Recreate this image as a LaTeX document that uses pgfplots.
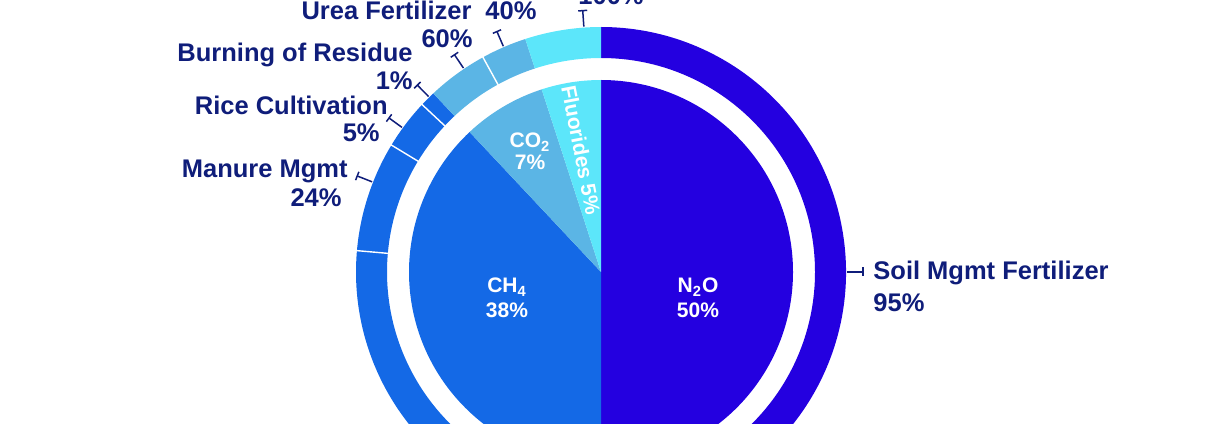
\documentclass[border=0pt]{standalone}
\usepackage{pgfplots}
\pgfplotsset{compat=1.18}
\usepackage{pgfplotstable}
\usepackage{fontspec}
\setmainfont{Liberation Sans}

\definecolor{nitro}{HTML}{2400E0}
\definecolor{meth}{HTML}{1469E6}
\definecolor{carb}{HTML}{5BB5E5}
\definecolor{fluor}{HTML}{5CE6FA}
\definecolor{navy}{HTML}{0F1D7A}

% inner pie, share of total (%)
\pgfplotstableread{
name  pct col
N2O   50  nitro
CH4   38  meth
CO2   7   carb
Fluor 5   fluor
}\innertab

% outer ring, span of each segment (degrees), clockwise from top
\pgfplotstableread{
name     span col   sep
soil     171  nitro 1
n2oother 9    nitro 0
ch4other 95   meth  1
manure   26.2 meth  1
rice     11.9 meth  1
burning  3.7  meth  0
urea     14.4 carb  1
co2other 10.8 carb  0
fluorall 18   fluor 0
}\outertab

% label ticks (angle, degrees)
\pgfplotstableread{
ang
0
158.5
144
134.5
124
113.4
94
}\ticktab

\newcommand\lab{\fontsize{12.75}{15}\selectfont\bfseries\color{navy}}
\newcommand\inlab{\fontsize{10.5}{12}\selectfont\bfseries\color{white}}

\def\rp{192}
\def\ri{214}
\def\ro{245}

\begin{document}
\begin{tikzpicture}
\begin{axis}[
  name=ax, at={(0,0)}, anchor=south west,
  x=0.5pt, y=0.5pt, scale only axis,
  xmin=-601, xmax=609, ymin=-151, ymax=272,
  hide axis, clip=true,
]
% inner pie
\def\cum{0}
\pgfplotsforeachungrouped \i in {0,...,3}{
  \pgfplotstablegetelem{\i}{pct}\of\innertab \let\pv\pgfplotsretval
  \pgfplotstablegetelem{\i}{col}\of\innertab \let\pc\pgfplotsretval
  \pgfmathsetmacro\sa{90-3.6*\cum}
  \pgfmathsetmacro\sb{90-3.6*(\cum+\pv)}
  \pgfmathsetmacro\cum{\cum+\pv}
  \edef\tmp{\noexpand\fill[\pc] (axis cs:0,0) -- (axis cs:{\rp*cos(\sa)},{\rp*sin(\sa)})
    arc[start angle=\sa, end angle=\sb, radius=\rp*0.5pt] -- cycle;}
  \tmp
}
% outer ring
\def\cum{0}
\pgfplotsforeachungrouped \i in {0,...,8}{
  \pgfplotstablegetelem{\i}{span}\of\outertab \let\pv\pgfplotsretval
  \pgfplotstablegetelem{\i}{col}\of\outertab \let\pc\pgfplotsretval
  \pgfmathsetmacro\sa{90-\cum}
  \pgfmathsetmacro\sb{90-\cum-\pv}
  \pgfmathsetmacro\cum{\cum+\pv}
  \edef\tmp{\noexpand\fill[\pc] (axis cs:{\ri*cos(\sa)},{\ri*sin(\sa)})
    arc[start angle=\sa, end angle=\sb, radius=\ri*0.5pt]
    -- (axis cs:{\ro*cos(\sb)},{\ro*sin(\sb)})
    arc[start angle=\sb, end angle=\sa, radius=\ro*0.5pt] -- cycle;}
  \tmp
}
% white separators inside a gas
\def\cum{0}
\pgfplotsforeachungrouped \i in {0,...,8}{
  \pgfplotstablegetelem{\i}{span}\of\outertab \let\pv\pgfplotsretval
  \pgfplotstablegetelem{\i}{sep}\of\outertab \let\ps\pgfplotsretval
  \pgfmathsetmacro\cum{\cum+\pv}
  \pgfmathsetmacro\sb{90-\cum}
  \ifnum\ps=1
  \edef\tmp{\noexpand\draw[white, line width=0.7pt] (axis cs:{(\ri-1)*cos(\sb)},{(\ri-1)*sin(\sb)})
    -- (axis cs:{(\ro+1)*cos(\sb)},{(\ro+1)*sin(\sb)});}
  \tmp
  \fi
}
% label ticks
\pgfplotsforeachungrouped \i in {0,...,6}{
  \pgfplotstablegetelem{\i}{ang}\of\ticktab \let\ta\pgfplotsretval
  \edef\tmp{\noexpand\draw[navy, line width=0.75pt]
    (axis cs:{246*cos(\ta)},{246*sin(\ta)}) -- (axis cs:{262*cos(\ta)},{262*sin(\ta)});
    \noexpand\draw[navy, line width=0.75pt]
    (axis cs:{262*cos(\ta)-4.5*sin(\ta)},{262*sin(\ta)+4.5*cos(\ta)})
    -- (axis cs:{262*cos(\ta)+4.5*sin(\ta)},{262*sin(\ta)-4.5*cos(\ta)});}
  \tmp
}
% outer labels
\node[anchor=base west, inner sep=0pt] at (axis cs:272,-8) {\lab Soil Mgmt Fertilizer};
\node[anchor=base west, inner sep=0pt] at (axis cs:272,-40) {\lab 95\%};
\node[anchor=base east, inner sep=0pt] at (axis cs:-253,94) {\lab Manure Mgmt};
\node[anchor=base east, inner sep=0pt] at (axis cs:-259,65) {\lab 24\%};
\node[anchor=base east, inner sep=0pt] at (axis cs:-213,157) {\lab Rice Cultivation};
\node[anchor=base east, inner sep=0pt] at (axis cs:-221,130) {\lab 5\%};
\node[anchor=base east, inner sep=0pt] at (axis cs:-188,210) {\lab Burning of Residue};
\node[anchor=base east, inner sep=0pt] at (axis cs:-188,182) {\lab 1\%};
\node[anchor=base east, inner sep=0pt] at (axis cs:-129,252) {\lab Urea Fertilizer};
\node[anchor=base east, inner sep=0pt] at (axis cs:-128,224) {\lab 60\%};
\node[anchor=base west, inner sep=0pt] at (axis cs:-116,252) {\lab 40\%};
\node[anchor=base west, inner sep=0pt] at (axis cs:-23,267) {\lab 100\%};
% inner labels
\node[anchor=base, inner sep=0pt] at (axis cs:-94,-21) {\inlab CH\textsubscript{4}};
\node[anchor=base, inner sep=0pt] at (axis cs:-94,-46) {\inlab 38\%};
\node[anchor=base, inner sep=0pt] at (axis cs:97,-21) {\inlab N\textsubscript{2}O};
\node[anchor=base, inner sep=0pt] at (axis cs:97,-46) {\inlab 50\%};
\node[anchor=base, inner sep=0pt] at (axis cs:-71,124) {\inlab CO\textsubscript{2}};
\node[anchor=base, inner sep=0pt] at (axis cs:-71,102) {\inlab 7\%};
\node[anchor=center, inner sep=0pt, rotate=-79] at (axis cs:-20,122) {\inlab Fluorides 5\%};
\end{axis}
\pgfresetboundingbox
\path (0,0) rectangle (605pt,211.5pt);
\end{tikzpicture}
\end{document}
